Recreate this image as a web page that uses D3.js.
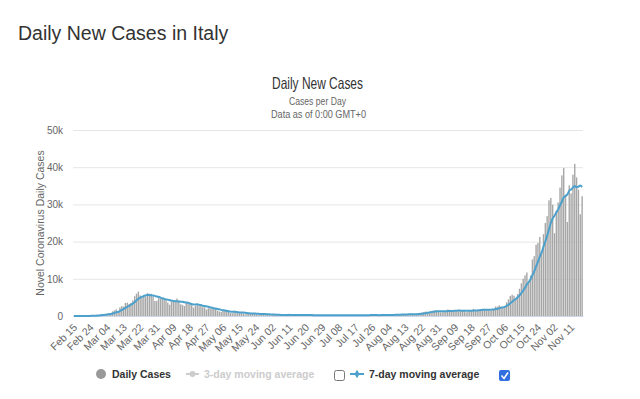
<!DOCTYPE html>
<html>
<head>
<meta charset="utf-8">
<script src="https://cdn.jsdelivr.net/npm/d3@7/dist/d3.min.js"></script>
<style>
  html, body { margin: 0; padding: 0; background: #fff; }
  text { font-family: "Liberation Sans", Arial, sans-serif; }
</style>
</head>
<body>
<div id="chart"></div>
<script>
// daily new cases, Italy, starting Feb 15 2020 (one value per day)
const startDate = new Date(2020, 1, 15);
const dailyCases = [
  // Feb 15 - Feb 29
  0,0,0,0,0,0,17,62,53,97,93,78,250,238,240,
  // Mar
  566,342,466,587,769,778,1247,1492,1797,977,2313,2651,2547,3497,3590,3233,3526,4207,5322,5986,6557,5560,4789,5249,5210,6153,5959,5974,5217,4050,4053,
  // Apr
  4782,4668,4585,4805,4316,3599,3039,3836,4204,3951,4694,4092,3153,2972,2667,3786,3493,3491,3047,2256,2729,3370,2646,3021,2357,2324,1739,2091,2086,1872,
  // May
  1965,1900,1389,1221,1075,1444,1401,1327,1083,802,744,1402,888,992,789,875,675,451,813,665,642,652,669,531,300,397,584,593,516,416,355,
  // Jun
  178,318,321,177,518,270,197,280,283,202,379,163,346,338,301,210,329,333,251,262,224,218,122,190,296,259,175,174,126,142,
  // Jul
  187,201,223,235,192,208,138,193,229,276,188,234,169,114,162,230,233,249,219,190,129,282,306,252,275,255,170,181,212,289,386,
  // Aug
  379,295,239,159,190,384,402,552,347,463,259,412,481,523,574,629,479,320,403,642,845,947,1071,1210,953,878,1367,1411,1460,1444,1365,
  // Sep
  996,978,1326,1397,1733,1695,1297,1108,1370,1434,1597,1616,1501,1458,1008,1229,1452,1585,1907,1638,1587,1392,1640,1786,1912,1869,1766,1494,1648,1851,
  // Oct
  2548,2499,2844,2578,2257,2677,3678,4458,5372,5724,5456,4619,5901,7332,8804,10010,10925,11705,9338,10874,15199,16079,19143,19644,21273,17012,21994,24991,26831,31084,31758,
  // Nov 01 - Nov 17
  29907,22253,28244,30550,34505,37809,39811,32616,25271,35098,32961,37978,40902,37255,33979,27354,32191
];
const tickLabels = ["Feb 15","Feb 24","Mar 04","Mar 13","Mar 22","Mar 31","Apr 09","Apr 18","Apr 27",
  "May 06","May 15","May 24","Jun 02","Jun 11","Jun 20","Jun 29","Jul 08","Jul 17","Jul 26",
  "Aug 04","Aug 13","Aug 22","Aug 31","Sep 09","Sep 18","Sep 27","Oct 06","Oct 15","Oct 24","Nov 02","Nov 11"];
const yTicks = [0, 10000, 20000, 30000, 40000, 50000];

const width = 640, height = 399;
const margin = { left: 73, right: 57, top: 130, bottom: 83 };

const dates = dailyCases.map((d, i) => d3.timeDay.offset(startDate, i));
const fmtDay = d3.timeFormat("%b %d");

// trailing 7-day mean of the daily values
const avg7 = dailyCases.map((d, i) => d3.mean(dailyCases.slice(Math.max(0, i - 6), i + 1)));

const svg = d3.select("#chart").append("svg")
    .attr("width", width)
    .attr("height", height);

svg.append("rect").attr("width", width).attr("height", height).attr("fill", "#fff");

svg.append("text")
    .attr("x", 18).attr("y", 40)
    .attr("font-size", 19.5)
    .attr("fill", "#333")
    .text("Daily New Cases in Italy");

// the original uses a narrow font, so squeeze to its measured widths
svg.append("text")
    .attr("x", 272).attr("y", 89)
    .attr("font-size", 16.5)
    .attr("fill", "#333")
    .attr("textLength", 91)
    .attr("lengthAdjust", "spacingAndGlyphs")
    .text("Daily New Cases");

svg.append("text")
    .attr("x", 289).attr("y", 105)
    .attr("font-size", 11)
    .attr("fill", "#666")
    .attr("textLength", 57)
    .attr("lengthAdjust", "spacingAndGlyphs")
    .text("Cases per Day");

svg.append("text")
    .attr("x", 271).attr("y", 118)
    .attr("font-size", 11)
    .attr("fill", "#666")
    .attr("textLength", 95)
    .attr("lengthAdjust", "spacingAndGlyphs")
    .text("Data as of 0:00 GMT+0");

const x = d3.scaleBand()
    .domain(dates.map(fmtDay))
    .range([margin.left, width - margin.right])
    .paddingInner(0.25)
    .paddingOuter(0.1);

const y = d3.scaleLinear()
    .domain([0, 50000])
    .range([height - margin.bottom, margin.top]);

// grid + y labels
const yAxis = svg.append("g")
    .attr("transform", `translate(${margin.left},0)`)
    .call(d3.axisLeft(y).tickValues(yTicks).tickSize(-(width - margin.left - margin.right))
      .tickFormat(d => d === 0 ? "0" : d3.format("~s")(d)));
yAxis.select(".domain").remove();
yAxis.selectAll(".tick line").attr("stroke", "#e6e6e6");
yAxis.selectAll(".tick text")
    .attr("x", -10)
    .attr("fill", "#666")
    .attr("font-size", 10)
    .attr("font-family", "Liberation Sans, Arial, sans-serif");

svg.append("text")
    .attr("transform", `translate(40,${(y(0) + y(50000)) / 2}) rotate(-90)`)
    .attr("text-anchor", "middle")
    .attr("dy", "0.35em")
    .attr("font-size", 10.5)
    .attr("fill", "#666")
    .text("Novel Coronavirus Daily Cases");

// bars
svg.append("g")
    .selectAll("rect")
    .data(dailyCases)
    .enter().append("rect")
      .attr("x", (d, i) => x(fmtDay(dates[i])))
      .attr("y", d => y(d))
      .attr("width", x.bandwidth())
      .attr("height", d => y(0) - y(d))
      .attr("fill", "#a6a6a6");

// x axis
const xAxis = svg.append("g")
    .attr("transform", `translate(0,${y(0)})`)
    .call(d3.axisBottom(x).tickValues(tickLabels).tickSize(0));
xAxis.select(".domain").attr("stroke", "#ccd6eb");
xAxis.selectAll(".tick text")
    .attr("fill", "#666")
    .attr("font-size", 10.5)
    .attr("font-family", "Liberation Sans, Arial, sans-serif")
    .attr("text-anchor", "end")
    .attr("dy", null)
    .attr("y", 0)
    .attr("transform", "translate(4,12) rotate(-45)");

// 7-day moving average
const line = d3.line()
    .x((d, i) => x(fmtDay(dates[i])) + x.bandwidth() / 2)
    .y(d => y(d))
    .curve(d3.curveMonotoneX);

svg.append("path")
    .datum(avg7)
    .attr("fill", "none")
    .attr("stroke", "#4ba0cc")
    .attr("stroke-width", 2)
    .attr("d", line);

// legend
const lg = svg.append("g").attr("font-size", 10.5).attr("font-weight", "bold");
const ly = 374;

lg.append("circle").attr("cx", 101).attr("cy", ly).attr("r", 5).attr("fill", "#999");
lg.append("text").attr("x", 112).attr("y", ly + 4).attr("fill", "#333").text("Daily Cases");

lg.append("line").attr("x1", 186).attr("x2", 199).attr("y1", ly).attr("y2", ly)
    .attr("stroke", "#ccc").attr("stroke-width", 2);
lg.append("circle").attr("cx", 192.5).attr("cy", ly).attr("r", 3).attr("fill", "#ccc");
lg.append("text").attr("x", 204).attr("y", ly + 4).attr("fill", "#ccc").text("3-day moving average");

lg.append("rect").attr("x", 334.5).attr("y", 370.5).attr("width", 10).attr("height", 10).attr("rx", 2)
    .attr("fill", "#fff").attr("stroke", "#777");

lg.append("line").attr("x1", 350).attr("x2", 364).attr("y1", ly).attr("y2", ly)
    .attr("stroke", "#4ba0cc").attr("stroke-width", 2);
lg.append("path").attr("d", d3.symbol(d3.symbolDiamond, 22)())
    .attr("transform", `translate(357,${ly})`).attr("fill", "#4ba0cc");
lg.append("text").attr("x", 369).attr("y", ly + 4).attr("fill", "#333").text("7-day moving average");

lg.append("rect").attr("x", 499).attr("y", 370).attr("width", 11).attr("height", 11).attr("rx", 2)
    .attr("fill", "#2f6fe0");
lg.append("path").attr("d", "M501.5,375.5 L504,378.5 L508,372.5")
    .attr("fill", "none").attr("stroke", "#fff").attr("stroke-width", 1.6);
</script>
</body>
</html>
